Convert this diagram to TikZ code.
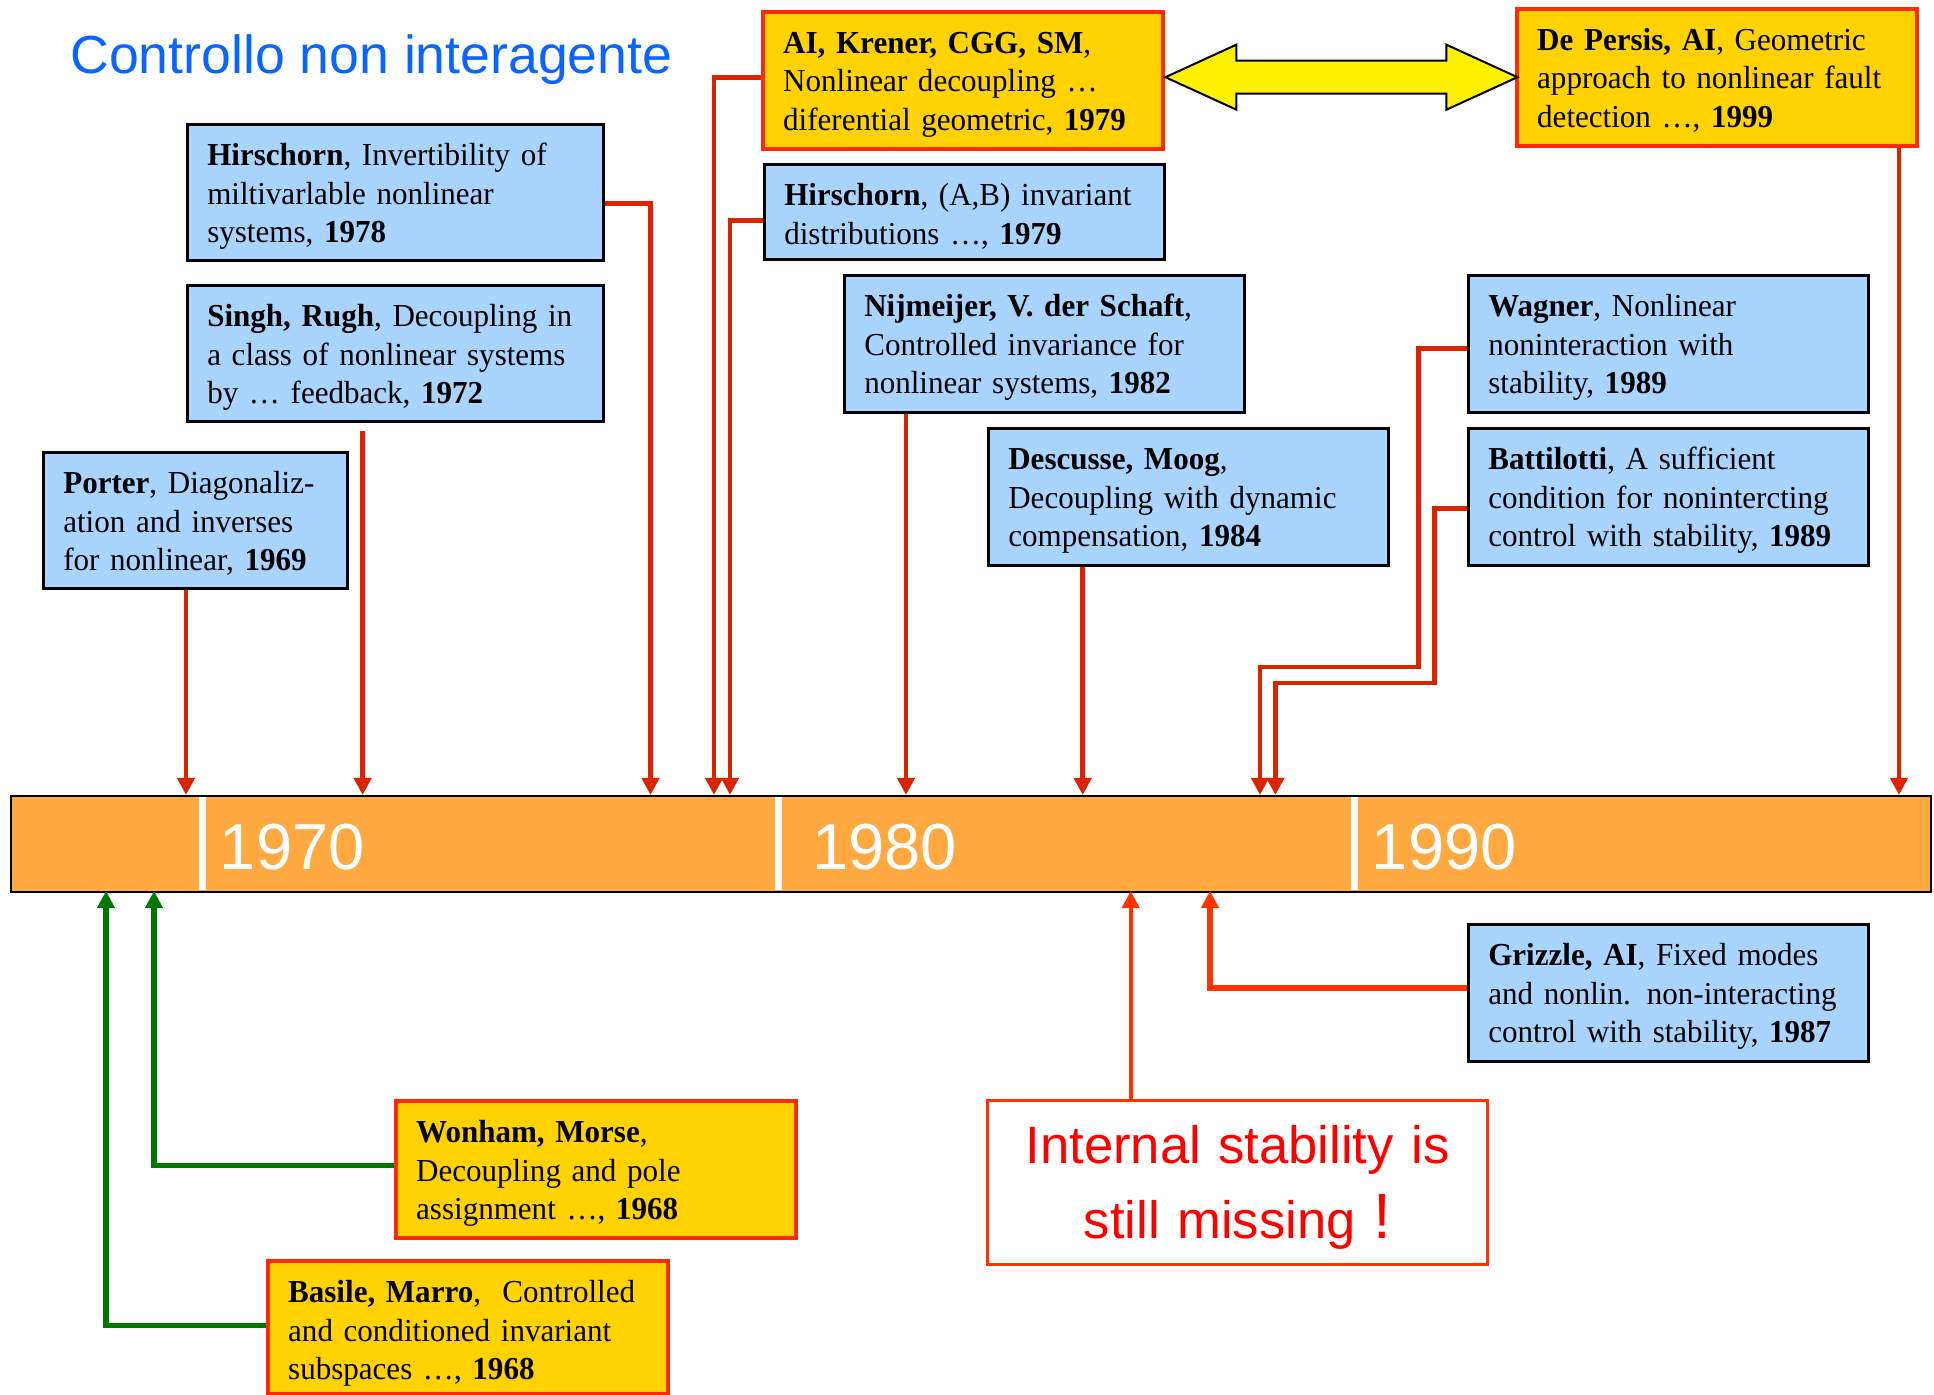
\documentclass[tikz,border=0pt]{standalone}
\usepackage{fontspec}
\setmainfont{Liberation Serif}[FakeStretch=0.97]
\newfontfamily\arialfont{Liberation Sans}
\usetikzlibrary{arrows.meta,calc}

\definecolor{boxblue}{HTML}{A8D4FF}
\definecolor{boxgold}{HTML}{FFD200}
\definecolor{rimred}{HTML}{FF2A00}
\definecolor{linkred}{HTML}{DC2300}
\definecolor{warnred}{HTML}{FF3300}
\definecolor{linkgreen}{HTML}{007800}
\definecolor{barorange}{HTML}{FFA940}
\definecolor{titleblue}{HTML}{0A64FF}

% keep every printed line of a reference on one line
\newcommand\oneline[1]{\mbox{#1}}

\tikzset{
  paper/.style={anchor=north west, inner xsep=10pt, inner ysep=0pt, align=left,
    font=\fontsize{16}{19.4}\selectfont, text height=20.5pt},
  bluebox/.style={paper, draw=black, line width=1.3pt, fill=boxblue},
  goldbox/.style={paper, draw=rimred, line width=2.2pt, fill=boxgold},
  std/.style={minimum width=200pt, text width=180pt, minimum height=68.5pt, text depth=48pt},
  broad/.style={minimum width=208pt, text width=188pt, minimum height=68pt, text depth=47.5pt},
  narrow/.style={minimum width=152pt, text width=132pt, minimum height=68pt, text depth=47.5pt},
  short/.style={minimum width=200pt, text width=180pt, minimum height=47.5pt, text depth=27pt},
  year/.style={anchor=base west, inner sep=0pt, text=white,
    font=\arialfont\fontsize{32.5}{32.5}\selectfont},
  toplink/.style={draw=linkred, line width=2.4pt, -{Triangle[length=8.5pt,width=8.5pt]}},
  greenlink/.style={draw=linkgreen, line width=2.7pt, -{Triangle[length=8.5pt,width=8.5pt]}},
  warnlink/.style={draw=warnred, line width=#1, -{Triangle[length=8.5pt,width=8.5pt]}},
  warnlink/.default=2pt,
  decade/.style={white, line width=3.5pt}
}

\begin{document}
\begin{tikzpicture}[x=0.5pt, y=-0.5pt]
\path[use as bounding box] (0,0) rectangle (1934,1395);

% heading
\node[anchor=base west, inner sep=0pt, text=titleblue,
      font=\arialfont\fontsize{26.8}{30}\selectfont] (title) at (70,74) {Controllo non interagente};

% time axis
\node[anchor=north west, minimum width=960pt, minimum height=48pt, inner sep=0pt,
      fill=barorange, draw=black, line width=1.2pt] (bar) at (10,795) {};
\draw[decade] (202,796.5) -- (202,889.5);
\draw[decade] (778,796.5) -- (778,889.5);
\draw[decade] (1354,796.5) -- (1354,889.5);
\node[year] (y70) at (219.5,870) {1970};
\node[year] (y80) at (812,870) {1980};
\node[year] (y90) at (1371.5,870) {1990};

% landing points on the axis
\coordinate (a69) at (186,795);
\coordinate (a72) at (362.6,795);
\coordinate (a78) at (650.5,795);
\coordinate (a79k) at (714,795);
\coordinate (a79h) at (730,795);
\coordinate (a82) at (906,795);
\coordinate (a84) at (1082.7,795);
\coordinate (a89w) at (1260,795);
\coordinate (a89b) at (1275.4,795);
\coordinate (a99) at (1899,795);
\coordinate (b68b) at (106,891);
\coordinate (b68w) at (154,891);
\coordinate (bmiss) at (1130.7,891);
\coordinate (b87) at (1210,891);

% references above the axis
\node[bluebox, broad] (h78) at (186,123) {%
  \oneline{\textbf{Hirschorn}, Invertibility of}\\
  \oneline{miltivarlable nonlinear}\\
  \oneline{systems, \textbf{1978}}};
\node[bluebox, broad] (singh) at (186,284) {%
  \oneline{\textbf{Singh, Rugh}, Decoupling in}\\
  \oneline{a class of nonlinear systems}\\
  \oneline{by … feedback, \textbf{1972}}};
\node[bluebox, narrow] (porter) at (42,451) {%
  \oneline{\textbf{Porter}, Diagonaliz-}\\
  \oneline{ation and inverses}\\
  \oneline{for nonlinear, \textbf{1969}}};
\node[goldbox, std] (ai) at (761,10) {%
  \oneline{\textbf{AI, Krener, CGG, SM},}\\
  \oneline{Nonlinear decoupling …}\\
  \oneline{diferential geometric, \textbf{1979}}};
\node[bluebox, short] (h79) at (763,163) {%
  \oneline{\textbf{Hirschorn}, (A,B) invariant}\\
  \oneline{distributions …, \textbf{1979}}};
\node[bluebox, std] (nij) at (843,274) {%
  \oneline{\textbf{Nijmeijer, V. der Schaft},}\\
  \oneline{Controlled invariance for}\\
  \oneline{nonlinear systems, \textbf{1982}}};
\node[bluebox, std] (desc) at (987,427) {%
  \oneline{\textbf{Descusse, Moog},}\\
  \oneline{Decoupling with dynamic}\\
  \oneline{compensation, \textbf{1984}}};
\node[goldbox, std] (dep) at (1515,7) {%
  \oneline{\textbf{De Persis, AI}, Geometric}\\
  \oneline{approach to nonlinear fault}\\
  \oneline{detection …, \textbf{1999}}};
\node[bluebox, std] (wag) at (1467,274) {%
  \oneline{\textbf{Wagner}, Nonlinear}\\
  \oneline{noninteraction with}\\
  \oneline{stability, \textbf{1989}}};
\node[bluebox, std] (bat) at (1467,427) {%
  \oneline{\textbf{Battilotti}, A sufficient}\\
  \oneline{condition for nonintercting}\\
  \oneline{control with stability, \textbf{1989}}};

% references below the axis
\node[bluebox, std] (griz) at (1467,923) {%
  \oneline{\textbf{Grizzle, AI}, Fixed modes}\\
  \oneline{and nonlin. non-interacting}\\
  \oneline{control with stability, \textbf{1987}}};
\node[goldbox, std] (won) at (394,1099) {%
  \oneline{\textbf{Wonham, Morse},}\\
  \oneline{Decoupling and pole}\\
  \oneline{assignment …, \textbf{1968}}};
\node[goldbox, std, minimum height=66.5pt, text depth=46pt] (bas) at (266,1259) {%
  \oneline{\textbf{Basile, Marro},\ \ Controlled}\\
  \oneline{and conditioned invariant}\\
  \oneline{subspaces …, \textbf{1968}}};
\node[anchor=north west, draw=warnred, line width=1.5pt, fill=white, inner sep=0pt,
      minimum width=250pt, text width=250pt, align=center, text=red,
      text height=31.35pt, text depth=50.65pt,
      font=\arialfont\fontsize{26.3}{37.5}\selectfont] (miss) at (986,1099) {%
  Internal stability is\\still missing {\fontsize{32}{37.5}\selectfont !}};

% link between the two geometric works
\draw[line width=1pt, fill=yellow, line join=miter]
  ([yshift=1.75pt]ai.east) -- ++(71,-32.5) -- ++(0,16) -- ++(210,0) -- ++(0,-16)
  -- ++(71,32.5) -- ++(-71,32.5) -- ++(0,-16) -- ++(-210,0) -- ++(0,16) -- cycle;

% connectors to the axis
\draw[toplink] (porter.south -| a69) -- (a69);
\draw[toplink] (singh.south -| a72) ++(0,8) -- (a72);
\draw[toplink] ([yshift=-5.5pt]h78.east) -| (a78);
\draw[toplink] ([yshift=1.75pt]ai.west) -| (a79k);
\draw[toplink] ([yshift=-4.25pt]h79.west) -| (a79h);
\draw[toplink] (nij.south -| a82) -- (a82);
\draw[toplink] (desc.south -| a84) -- (a84);
\draw[toplink] ([yshift=-2.25pt]wag.west) -| (1418.6,667) -| (a89w);
\draw[toplink] ([yshift=-5.75pt]bat.west) -| (1434.6,683) -| (a89b);
\draw[toplink] (dep.south -| a99) -- (a99);

\draw[greenlink] ([yshift=1.25pt]bas.west) -| (b68b);
\draw[greenlink] ([yshift=2.25pt]won.west) -| (b68w);
\draw[warnlink] (miss.north -| bmiss) -- (bmiss);
\draw[warnlink=3pt] ([yshift=2.4pt]griz.west) -| (b87);
\end{tikzpicture}
\end{document}
